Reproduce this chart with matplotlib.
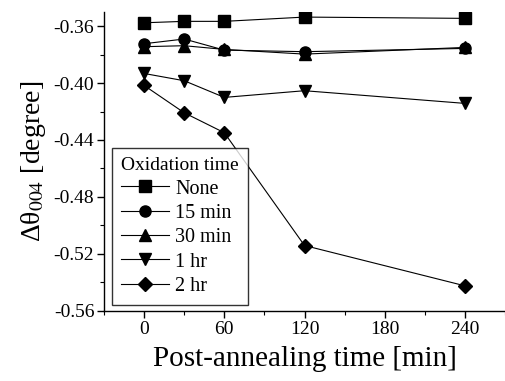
import matplotlib
matplotlib.use("Agg")
import matplotlib.pyplot as plt
from matplotlib.ticker import MultipleLocator

plt.rcParams["font.family"] = ["Liberation Serif", "DejaVu Serif"]
plt.rcParams["mathtext.fontset"] = "stix"

# post-annealing time [min]
anneal_time = [0, 30, 60, 120, 240]

# delta theta_004 [degree] per oxidation time
none_vals = [-0.3577, -0.3567, -0.3567, -0.3537, -0.3546]
min15_vals = [-0.3724, -0.3691, -0.3769, -0.3780, -0.3757]
min30_vals = [-0.3745, -0.3738, -0.3764, -0.3797, -0.3750]
hr1_vals = [-0.3933, -0.3984, -0.4101, -0.4054, -0.4143]
hr2_vals = [-0.4017, -0.4209, -0.4349, -0.5141, -0.5424]

series = [
    ("None", none_vals, "s"),
    ("15 min", min15_vals, "o"),
    ("30 min", min30_vals, "^"),
    ("1 hr", hr1_vals, "v"),
    ("2 hr", hr2_vals, "D"),
]

fig = plt.figure(figsize=(5.05, 3.81), dpi=100)
ax = fig.add_axes([0.206, 0.184, 0.794, 0.785])

for label, vals, marker in series:
    ms = 7 if marker == "D" else 8
    ax.plot(anneal_time, vals, color="black", lw=0.8, marker=marker,
            ms=ms, label=label)

ax.set_xlim(-30, 270)
ax.set_ylim(-0.56, -0.35)
ax.xaxis.set_major_locator(MultipleLocator(60))
ax.xaxis.set_minor_locator(MultipleLocator(30))
ax.yaxis.set_major_locator(MultipleLocator(0.04))
ax.yaxis.set_minor_locator(MultipleLocator(0.02))
ax.yaxis.set_major_formatter(plt.FuncFormatter(lambda v, p: f"{v:.2f}"))

for side in ("top", "right"):
    ax.spines[side].set_visible(False)
ax.spines["left"].set_linewidth(1.0)
ax.spines["bottom"].set_linewidth(1.0)
ax.tick_params(which="major", direction="out", length=5, width=1.0,
               labelsize=14, pad=2)
ax.tick_params(which="minor", direction="out", length=3, width=0.8)

ax.set_xlabel("Post-annealing time [min]", fontsize=21, labelpad=6)
ax.set_ylabel("Δθ$_{004}$ [degree]", fontsize=20, labelpad=4)

leg = ax.legend(title="Oxidation time", loc="lower left",
                bbox_to_anchor=(0.02, 0.02), fontsize=14.5, title_fontsize=14,
                fancybox=False, frameon=True, edgecolor="black",
                handlelength=2.4, handletextpad=0.3, labelspacing=0.26,
                borderpad=0.45, borderaxespad=0.0)
leg.get_frame().set_linewidth(1.0)
leg._legend_box.align = "left"

fig.savefig("out.png", dpi=100)
